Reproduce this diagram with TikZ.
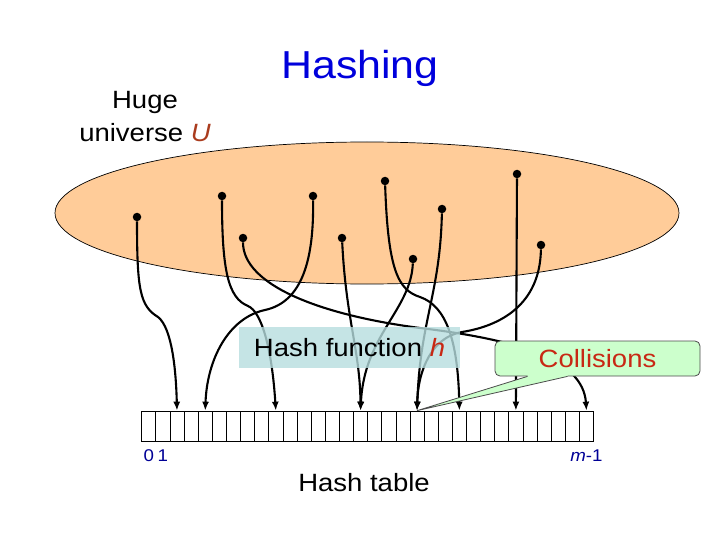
\documentclass[tikz,border=0pt]{standalone}
\usepackage{fontspec}
\setmainfont{Liberation Sans}[FakeStretch=1.1]
\usetikzlibrary{positioning,calc,arrows.meta}
\definecolor{peach}{RGB}{255,204,153}
\definecolor{hfblue}{RGB}{182,221,222}
\definecolor{collgreen}{RGB}{204,255,204}
\definecolor{titleblue}{RGB}{0,0,220}
\definecolor{idxblue}{RGB}{0,0,150}
\definecolor{hred}{RGB}{200,40,20}
\definecolor{ubrown}{RGB}{170,60,30}
\tikzset{key/.style={circle,fill=black,inner sep=0pt,minimum size=8.5pt}}
\tikzset{cell/.style={draw,inner sep=0pt,minimum width=14.12pt,minimum height=30pt,line width=0.7pt}}
\tikzset{hmap/.style={line width=2.1pt,-{Latex[length=9pt,width=7pt]}}}
\tikzset{lbl/.style={font=\fontsize{25}{33}\selectfont}}
\tikzset{idx/.style={text=idxblue,font=\fontsize{17}{20}\selectfont,inner sep=0pt}}

\begin{document}
\begin{tikzpicture}[x=1pt,y=-1pt]
  \useasboundingbox (0,0) rectangle (720,540);
  \node[text=titleblue,font=\fontsize{39}{44}\selectfont] (title) at (360,68) {Hashing};
  \node[lbl,align=center] (huge) at (145,117) {Huge\\universe \textcolor{ubrown}{\itshape U}};
  % the universe
  \draw[fill=peach,line width=0.7pt] (367,213) ellipse (312 and 71);
  \foreach \n/\x/\y in {a/137/217,b/222/196,c/313/196,d/243/238,e/342/238,
                        f/385/181,g/442/209,h/413/259,i/517/174,j/541/245}
    \node[key] (k\n) at (\x,\y) {};
  % the table
  \foreach \i in {0,...,31}
    \node[cell] (c\i) at ({141.7+14.12*(\i+0.5)},426) {};
  \node[idx,below=8pt of c0] (zero) {0};
  \node[idx,below=8pt of c1] (one) {1};
  \node[idx,below=8pt of c31] (last) {\textit{m}-1};
  \node[lbl] (tbl) at (364,483) {Hash table};
  % h maps keys to slots
  \draw[hmap] (ka) .. controls (137,290) and (140,306) .. (158,317) .. controls (172,328) and (176,370) .. (c2.north);
  \draw[hmap] (kb) .. controls (222,270) and (228,298) .. (248,306) .. controls (262,312) and (272,350) .. (c9.north);
  \draw[hmap] (kc) .. controls (314,260) and (302,302) .. (265,310) .. controls (228,318) and (207,360) .. (c4.north);
  \draw[hmap] (kd) .. controls (243,285) and (320,315) .. (420,328) .. controls (520,340) and (583,360) .. (c31.north);
  \draw[hmap] (ke) .. controls (346,320) and (360,350) .. (c15.north);
  \draw[hmap] (kh) .. controls (411,310) and (364,335) .. (c15.north);
  \draw[hmap] (kf) .. controls (388,270) and (398,290) .. (420,297) .. controls (446,306) and (458,340) .. (c22.north);
  \draw[hmap] (kg) .. controls (440,295) and (420,320) .. (c19.north);
  \draw[hmap] (kj) .. controls (540,305) and (500,326) .. (462,332) .. controls (432,337) and (418,370) .. (c19.north);
  \draw[hmap] (ki) -- (c26.north);
  \node[lbl,fill=hfblue,fill opacity=0.8,text opacity=1,minimum width=221pt,minimum height=41pt,inner sep=0pt]
    (hf) at (349.5,347.5) {Hash function \textcolor{hred}{\itshape h}};
  % callout
  \node[lbl,draw=black!70,line width=0.8pt,fill=collgreen,text=hred,rounded corners=5pt,minimum width=205pt,minimum height=35pt,inner sep=0pt]
    (coll) at (597.5,358.5) {Collisions};
  \coordinate (pl) at ($(coll.south)+(-70,0)$);
  \coordinate (pr) at ($(coll.south)+(-30,0)$);
  \fill[collgreen] ($(pl)+(0,-4)$) -- (pl) -- (c19.north) -- (pr) -- ($(pr)+(0,-4)$) -- cycle;
  \draw[black!70,line width=0.8pt] (pl) -- (c19.north) -- (pr);
\end{tikzpicture}
\end{document}
